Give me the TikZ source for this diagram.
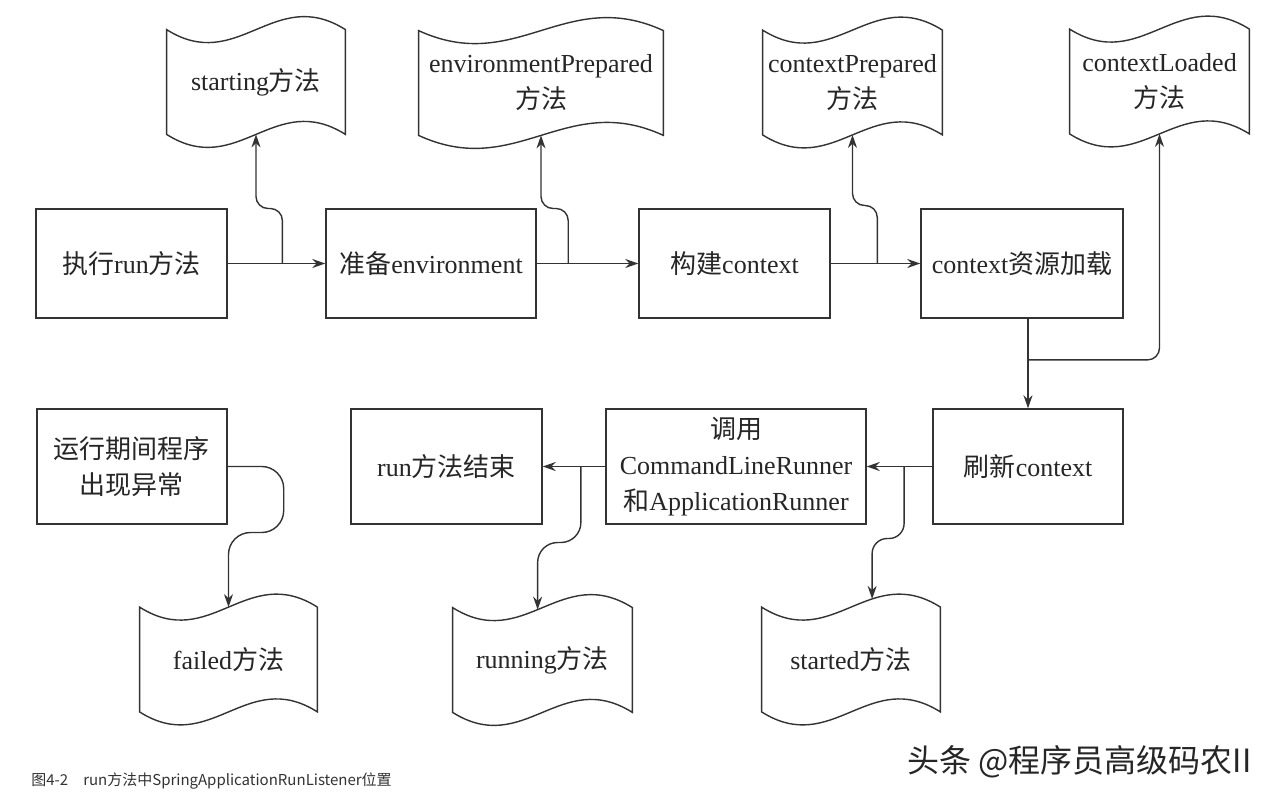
\documentclass[tikz,border=0pt]{standalone}
\usepackage{fontspec}
\setmainfont{Liberation Serif}
\newfontfamily\cjk{Noto Sans CJK SC}
\newcommand{\zhs}[1]{{\cjk #1}}
\usetikzlibrary{arrows.meta}
\tikzset{
  box/.style = {draw=black!80, line width=0.7pt, align=center, inner sep=0pt,
    minimum height=54.5pt, font=\fontsize{13}{18}\selectfont, text=black!85},
  doc/.style = {align=center, inner sep=0pt, minimum height=52pt,
    font=\fontsize{13}{18}\selectfont, text=black!85},
  docline/.style = {draw=black!80, line width=0.7pt},
  link/.style = {draw=black!80, line width=0.7pt, ->},
}
% wavy document: name, centre, width (px), entry pos on top edge, text
\newcommand{\wavedoc}[5]{%
  \node [doc, minimum width=#3*0.5pt] (#1) at (#2) {#5};
  \draw [docline] (#1.north west)
    .. controls +(0.4*#3,45) and +(-0.4*#3,-45) .. coordinate[pos=#4] (#1-in) (#1.north east)
    -- (#1.south east)
    .. controls +(-0.4*#3,-45) and +(0.4*#3,45) .. (#1.south west) -- cycle;
}

\begin{document}
\begin{tikzpicture}[x=0.5pt, y=-0.5pt, >={Stealth[length=6.5pt,width=4.5pt]}]
\fill [white] (0,0) rectangle (1279,798);
\useasboundingbox (0,0) rectangle (1279,798);
% top row
\node [box, minimum width=95.5pt] (start) at (131.5,263.5) {\zhs{执行}run\zhs{方法}};
\node [box, minimum width=105pt] (prepare) at (431,263.5) {\zhs{准备}environment};
\node [box, minimum width=95.5pt] (create) at (734.5,263.5) {\zhs{构建}context};
\node [box, minimum width=101pt] (load) at (1022,263.5) {context\zhs{资源加载}};
\wavedoc{startingdoc}{256,82}{178}{0.5}{starting\zhs{方法}}
\wavedoc{envdoc}{541,83}{244}{0.5}{environmentPrepared\\\zhs{方法}}
\wavedoc{prepdoc}{852.5,82.5}{179}{0.5}{contextPrepared\\\zhs{方法}}
\wavedoc{loadeddoc}{1159.5,81.5}{179}{0.5}{contextLoaded\\\zhs{方法}}
% bottom row
\node [box, minimum width=95pt, minimum height=57.5pt] (abnormal) at (132,466.5) {\zhs{运行期间程序}\\\zhs{出现异常}};
\node [box, minimum width=95.5pt, minimum height=57.5pt] (runend) at (446.5,466.5) {run\zhs{方法结束}};
\node [box, minimum width=130pt, minimum height=57.5pt] (callrunner) at (736,466.5) {\zhs{调用}\\CommandLineRunner\\\zhs{和}ApplicationRunner};
\node [box, minimum width=95pt, minimum height=57.5pt] (refresh) at (1028,466.5) {\zhs{刷新}context};
\wavedoc{faileddoc}{228.5,659.5}{177}{0.5}{failed\zhs{方法}}
\wavedoc{runningdoc}{542.5,660}{179}{0.47}{running\zhs{方法}}
\wavedoc{starteddoc}{851,659.5}{178}{0.63}{started\zhs{方法}}
% connectors
\draw [link] (start) -- coordinate[pos=0.56] (b1) (prepare);
\draw [link, rounded corners=6pt] (b1) -- ++(0,-55) -| (startingdoc.south);
\draw [link] (prepare) -- coordinate[pos=0.31] (b2) (create);
\draw [link, rounded corners=6pt] (b2) -- ++(0,-55) -| (envdoc.south);
\draw [link] (create) -- coordinate[pos=0.52] (b3) (load);
\draw [link, rounded corners=6pt] (b3) -- ++(0,-58) -| (prepdoc.south);
\draw [link] (load.south -| refresh.north) -- coordinate[pos=0.46] (b4) (refresh.north);
\draw [link, rounded corners=6pt] (b4) -| (loadeddoc.south);
\draw [link] (refresh) -- coordinate[pos=0.43] (b5) (callrunner);
\draw [link, rounded corners=7.5pt] (b5) -- ++(0,72) -| (starteddoc-in);
\draw [link] (callrunner) -- coordinate[pos=0.39] (b6) (runend);
\draw [link, rounded corners=10pt] (b6) -- ++(0,76) -| (runningdoc-in);
\draw [link, rounded corners=11pt] (abnormal.east) -| ++(56,66) -| (faileddoc-in);
% caption and mark
\node [anchor=west, inner sep=0pt, text=black!80, font=\cjk\fontsize{7.5}{9}\selectfont] (caption) at (31,781) {图4-2\quad run方法中SpringApplicationRunListener位置};
\node [anchor=west, inner sep=0pt, text=black!85, font=\cjk\fontsize{16}{18}\selectfont] (mark) at (907,762) {头条 @程序员高级码农II};
\end{tikzpicture}
\end{document}
